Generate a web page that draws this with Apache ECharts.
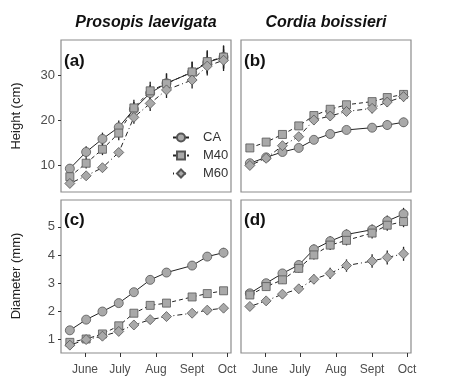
<!DOCTYPE html>
<html>
<head>
<meta charset="utf-8">
<script src="https://cdn.jsdelivr.net/npm/echarts@6/dist/echarts.min.js"></script>
<style>
  html, body { margin: 0; background: #fff; }
  #chart { width: 460px; height: 383px; }
</style>
</head>
<body>
<div id="chart"></div>
<script>
// sampling dates as days from June 1
var sampleDays = [-13, 1, 15, 29, 42, 56, 70, 92, 105, 119];
var monthDays = [0, 30, 61, 92, 122];
var monthLabels = ['June', 'July', 'Aug', 'Sept', 'Oct'];
var heightTicks = [10, 20, 30];
var diamTicks = [1, 2, 3, 4, 5];
var treatments = ['CA', 'M40', 'M60'];

// (a) Prosopis laevigata - height (cm)
var plHeightCA  = [9.2, 12.9, 15.8, 18.4, 22.4, 26.0, 28.2, 30.6, 32.8, 34.0];
var plHeightM40 = [7.4, 10.4, 13.5, 17.1, 22.7, 26.5, 28.1, 30.7, 33.0, 34.0];
var plHeightM60 = [5.9, 7.6, 9.4, 12.8, 20.6, 23.7, 26.7, 28.9, 32.0, 33.3];
var plHeightErrCA  = [1.0, 1.3, 1.4, 1.5, 1.6, 1.8, 2.2, 2.3, 2.5, 2.6];
var plHeightErrM40 = [0.8, 1.2, 1.3, 1.6, 1.8, 2.0, 2.2, 2.3, 2.5, 2.5];
var plHeightErrM60 = [0.5, 0.6, 0.7, 1.0, 1.4, 1.7, 1.8, 1.9, 2.1, 2.4];

// (b) Cordia boissieri - height (cm)
var cbHeightCA  = [10.4, 11.7, 12.9, 13.8, 15.6, 16.9, 17.8, 18.3, 18.9, 19.5];
var cbHeightM40 = [13.8, 15.1, 16.8, 18.7, 21.0, 22.4, 23.4, 24.1, 25.0, 25.7];
var cbHeightM60 = [9.9, 11.5, 14.3, 16.3, 20.0, 20.9, 21.9, 22.6, 24.0, 25.2];
var cbHeightErrCA  = [0.6, 0.6, 0.7, 0.7, 0.8, 0.8, 0.9, 0.9, 1.0, 1.0];
var cbHeightErrM40 = [0.5, 0.5, 0.6, 0.6, 0.7, 0.7, 0.8, 0.8, 0.8, 0.9];
var cbHeightErrM60 = [0.8, 0.8, 0.9, 0.9, 1.0, 1.0, 1.0, 1.1, 1.1, 1.1];

// (c) Prosopis laevigata - diameter (mm)
var plDiamCA  = [1.31, 1.69, 1.98, 2.28, 2.67, 3.11, 3.37, 3.62, 3.94, 4.08];
var plDiamM40 = [0.88, 1.00, 1.18, 1.47, 1.92, 2.20, 2.28, 2.50, 2.62, 2.72];
var plDiamM60 = [0.78, 0.98, 1.10, 1.27, 1.50, 1.69, 1.80, 1.92, 2.03, 2.10];
var plDiamErrCA  = [0.12, 0.12, 0.13, 0.13, 0.14, 0.15, 0.15, 0.16, 0.16, 0.17];
var plDiamErrM40 = [0.08, 0.08, 0.09, 0.10, 0.10, 0.10, 0.10, 0.11, 0.11, 0.11];
var plDiamErrM60 = [0.08, 0.08, 0.09, 0.09, 0.10, 0.10, 0.11, 0.12, 0.12, 0.12];

// (d) Cordia boissieri - diameter (mm)
var cbDiamCA  = [2.63, 2.99, 3.34, 3.64, 4.20, 4.49, 4.73, 4.90, 5.21, 5.46];
var cbDiamM40 = [2.57, 2.87, 3.11, 3.52, 4.00, 4.35, 4.52, 4.78, 5.06, 5.19];
var cbDiamM60 = [2.16, 2.36, 2.60, 2.79, 3.13, 3.34, 3.62, 3.78, 3.91, 4.04];
var cbDiamErrCA  = [0.12, 0.13, 0.14, 0.15, 0.17, 0.18, 0.18, 0.19, 0.20, 0.22];
var cbDiamErrM40 = [0.12, 0.13, 0.14, 0.15, 0.16, 0.17, 0.18, 0.19, 0.20, 0.20];
var cbDiamErrM60 = [0.12, 0.13, 0.14, 0.15, 0.17, 0.20, 0.22, 0.24, 0.25, 0.25];

var panels = [
  { means: [plHeightCA, plHeightM40, plHeightM60], errs: [plHeightErrCA, plHeightErrM40, plHeightErrM60] },
  { means: [cbHeightCA, cbHeightM40, cbHeightM60], errs: [cbHeightErrCA, cbHeightErrM40, cbHeightErrM60] },
  { means: [plDiamCA, plDiamM40, plDiamM60], errs: [plDiamErrCA, plDiamErrM40, plDiamErrM60] },
  { means: [cbDiamCA, cbDiamM40, cbDiamM60], errs: [cbDiamErrCA, cbDiamErrM40, cbDiamErrM60] }
];

var symbols = ['circle', 'rect', 'diamond'];
var symbolSizes = [9, 8, 10];
var lineTypes = ['solid', [4, 3], [1, 3, 5, 3]];
var font = '"Liberation Sans", Arial, sans-serif';

var chartDom = document.getElementById('chart');
var myChart = echarts.init(chartDom);

var grids = [
  { left: 61, top: 40, width: 170, height: 152 },
  { left: 241, top: 40, width: 170, height: 152 },
  { left: 61, top: 200, width: 170, height: 153 },
  { left: 241, top: 200, width: 170, height: 153 }
];
grids.forEach(function (g) {
  g.show = true;
  g.borderColor = '#8c8c8c';
  g.borderWidth = 1.2;
  g.backgroundColor = '#fff';
});

var xAxes = [], yAxes = [], series = [];
grids.forEach(function (g, i) {
  var bottom = i >= 2;
  var left = i % 2 === 0;
  xAxes.push({
    type: 'value', gridIndex: i, min: -20.6, max: 125.4, position: 'bottom',
    axisLine: { show: false, onZero: false }, splitLine: { show: false },
    axisTick: { show: bottom, customValues: monthDays, length: 4, lineStyle: { color: '#333' } },
    axisLabel: {
      show: bottom, customValues: monthDays, margin: 11,
      color: '#4d4d4d', fontSize: 12, fontFamily: '"Liberation Sans Narrow", ' + font,
      formatter: function (v) { return monthLabels[monthDays.indexOf(v)]; }
    }
  });
  yAxes.push({
    type: 'value', gridIndex: i, position: 'left',
    min: bottom ? 0.5 : 4.0, max: bottom ? 5.96 : 37.8,
    axisLine: { show: false, onZero: false }, splitLine: { show: false },
    axisTick: { show: left, customValues: bottom ? diamTicks : heightTicks, length: 3, lineStyle: { color: '#333' } },
    axisLabel: {
      show: left, customValues: bottom ? diamTicks : heightTicks, margin: 6,
      color: '#4d4d4d', fontSize: 13, fontFamily: font
    }
  });

  var p = panels[i];
  // error bars
  var errData = [];
  for (var t = 0; t < 3; t++) {
    for (var k = 0; k < sampleDays.length; k++) {
      errData.push([sampleDays[k], p.means[t][k], p.errs[t][k]]);
    }
  }
  series.push({
    type: 'custom', xAxisIndex: i, yAxisIndex: i, z: 1, silent: true,
    data: errData,
    renderItem: function (params, api) {
      var x = api.value(0), y = api.value(1), e = api.value(2);
      var a = api.coord([x, y - e]), b = api.coord([x, y + e]);
      return {
        type: 'line',
        shape: { x1: a[0], y1: a[1], x2: b[0], y2: b[1] },
        style: { stroke: '#222', lineWidth: 1.3 }
      };
    }
  });
  for (var t2 = 0; t2 < 3; t2++) {
    series.push({
      name: treatments[t2], type: 'line', xAxisIndex: i, yAxisIndex: i, z: 3,
      data: sampleDays.map(function (d, k) { return [d, p.means[t2][k]]; }),
      symbol: symbols[t2], symbolSize: symbolSizes[t2],
      itemStyle: { color: '#a9a9a9', borderColor: '#555', borderWidth: 0.8 },
      lineStyle: { color: '#222', width: 1, type: lineTypes[t2] },
      silent: true
    });
  }
});

var option = {
  animation: false,
  backgroundColor: '#fff',
  grid: grids,
  xAxis: xAxes,
  yAxis: yAxes,
  series: series,
  legend: {
    data: treatments, orient: 'vertical', left: 172, top: 131,
    itemWidth: 16, itemHeight: 10, itemGap: 5, padding: 0,
    textStyle: { color: '#333', fontSize: 13, fontFamily: font, padding: [0, 0, 0, 9] }
  },
  graphic: [
    { type: 'text', x: 146, y: 23, style: { text: 'Prosopis laevigata', font: 'italic bold 16px ' + font, fill: '#111', align: 'center', verticalAlign: 'middle' } },
    { type: 'text', x: 326, y: 23, style: { text: 'Cordia boissieri', font: 'italic bold 16px ' + font, fill: '#111', align: 'center', verticalAlign: 'middle' } },
    { type: 'text', x: 64, y: 61, style: { text: '(a)', font: 'bold 17px ' + font, fill: '#111', align: 'left', verticalAlign: 'middle' } },
    { type: 'text', x: 244, y: 61, style: { text: '(b)', font: 'bold 17px ' + font, fill: '#111', align: 'left', verticalAlign: 'middle' } },
    { type: 'text', x: 64, y: 220, style: { text: '(c)', font: 'bold 17px ' + font, fill: '#111', align: 'left', verticalAlign: 'middle' } },
    { type: 'text', x: 244, y: 220, style: { text: '(d)', font: 'bold 17px ' + font, fill: '#111', align: 'left', verticalAlign: 'middle' } },
    { type: 'text', x: 16, y: 116, rotation: Math.PI / 2, style: { text: 'Height (cm)', font: '13px ' + font, fill: '#222', align: 'center', verticalAlign: 'middle' } },
    { type: 'text', x: 16, y: 276, rotation: Math.PI / 2, style: { text: 'Diameter (mm)', font: '13px ' + font, fill: '#222', align: 'center', verticalAlign: 'middle' } }
  ]
};

myChart.setOption(option);
</script>
</body>
</html>
